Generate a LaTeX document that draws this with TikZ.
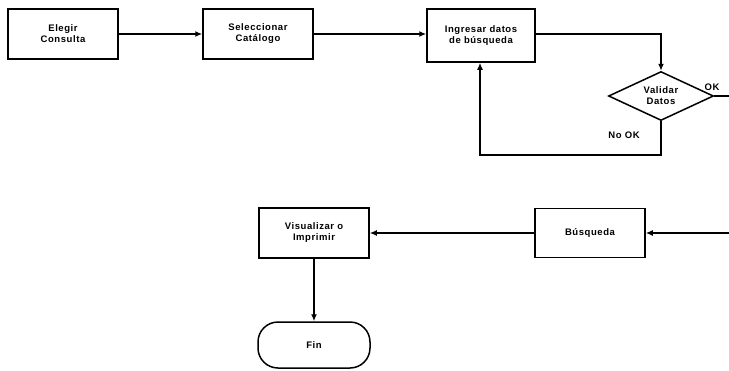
\documentclass[tikz,border=0pt]{standalone}
\usepackage{fontspec}
\setmainfont{Liberation Sans}[LetterSpace=6]
\usetikzlibrary{shapes.geometric,arrows.meta}
\begin{document}
\begin{tikzpicture}[x=1pt,y=-1pt,
  every node/.style={font=\fontsize{9.5}{11}\selectfont\bfseries, align=center},
  proc/.style={draw, line width=1.5pt, inner sep=0pt},
  dec/.style={draw, line width=1.5pt, diamond, aspect=2, inner sep=0pt, minimum width=105pt, minimum height=49pt},
  term/.style={draw, line width=1.5pt, rounded corners=20pt, inner sep=0pt, minimum width=112pt, minimum height=46pt},
  conn/.style={line width=1.4pt},
  arr/.style={conn, -{Latex[length=7pt,width=6pt]}},
  lbl/.style={inner sep=0pt}]
\useasboundingbox (0,0) rectangle (729,370);
\node[proc, minimum width=110pt, minimum height=50pt] (e) at (63,34) {Elegir\\Consulta};
\node[proc, minimum width=110pt, minimum height=50pt] (s) at (258,34) {Seleccionar\\Catálogo};
\node[proc, minimum width=108pt, minimum height=53pt] (i) at (481,35.5) {Ingresar datos\\de búsqueda};
\node[dec] (d) at (661,96) {Validar\\Datos};
\node[proc, minimum width=110pt, minimum height=49pt] (b) at (590,233) {Búsqueda};
\node[proc, minimum width=110pt, minimum height=50pt] (v) at (314,233) {Visualizar o\\Imprimir};
\node[term] (f) at (314,345) {Fin};
\node[lbl] (ok) at (712,87) {OK};
\node[lbl] (nok) at (624,135.5) {No OK};
\coordinate (dout) at (729,96);
\coordinate (bin) at (729,233);
\coordinate (c1) at (661,34);
\coordinate (c2) at (661,155);
\coordinate (c3) at (480,155);
\draw[arr] (e.east |- 0,34) -- (s.west |- 0,34);
\draw[arr] (s.east |- 0,34) -- (i.west |- 0,34);
\draw[arr] (i.east |- c1) -- (c1) -- (d.north);
\draw[conn] (d.east) -- (dout);
\draw[arr] (d.south) -- (c2) -- (c3) -- (i.south -| c3);
\draw[arr] (bin) -- (b.east);
\draw[arr] (b.west) -- (v.east);
\draw[arr] (v.south) -- (f.north);
\end{tikzpicture}
\end{document}
